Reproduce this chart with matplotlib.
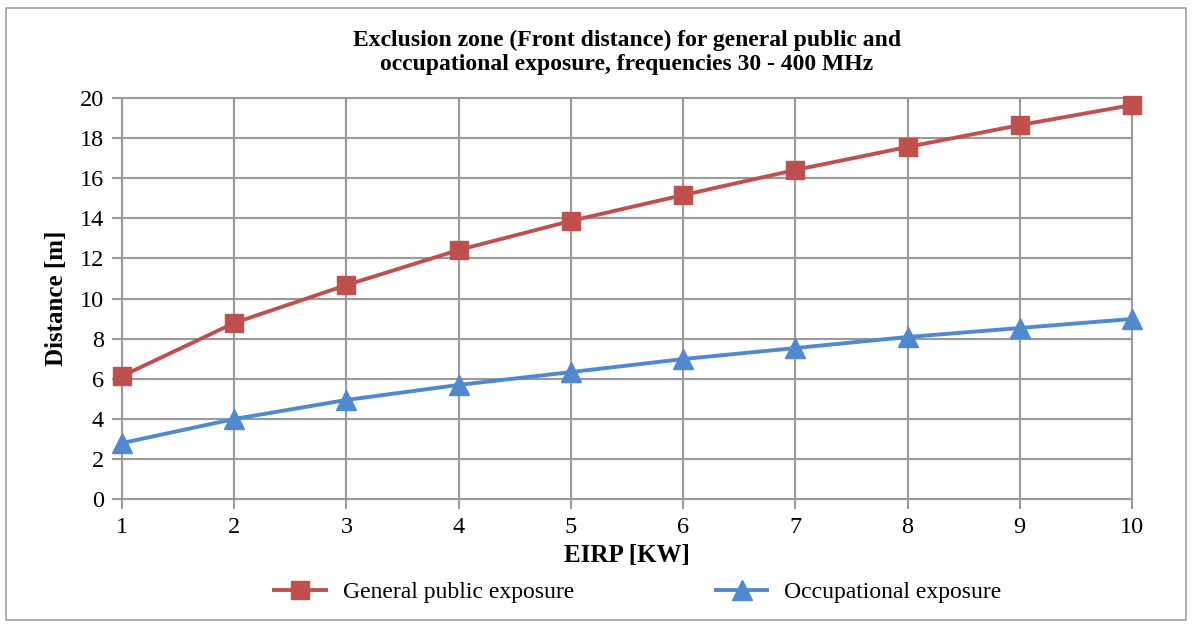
import matplotlib.pyplot as plt
from matplotlib.patches import Rectangle

eirp = [1, 2, 3, 4, 5, 6, 7, 8, 9, 10]
general_public = [6.13, 8.78, 10.67, 12.42, 13.87, 15.16, 16.41, 17.56, 18.65, 19.65]
occupational = [2.79, 3.99, 4.94, 5.69, 6.33, 6.98, 7.53, 8.08, 8.53, 8.98]

plt.rcParams['font.family'] = ['Liberation Serif', 'DejaVu Serif']

fig = plt.figure(figsize=(11.92, 6.28), dpi=100)
ax = fig.add_axes([0.1023, 0.2054, 0.8474, 0.6385])

# marco exterior
fig.patches.append(Rectangle((0.005, 0.012), 0.99, 0.976, transform=fig.transFigure,
                             fill=False, edgecolor='#a0a0a0', linewidth=1.2))

ax.plot(eirp, general_public, marker='s', markersize=13, linewidth=2.8,
        color='#C0504D', label='General public exposure', clip_on=False, zorder=3)
ax.plot(eirp, occupational, marker='^', markersize=14, linewidth=2.8,
        color='#5089D0', label='Occupational exposure', clip_on=False, zorder=3)

ax.set_xlim(1, 10)
ax.set_ylim(0, 20)
ax.set_xticks(eirp)
ax.set_yticks(range(0, 21, 2))
ax.grid(True, color='#9a9a9a', linewidth=1.5)
ax.set_axisbelow(True)
for s in ax.spines.values():
    s.set_color('#9a9a9a')
    s.set_linewidth(1.5)
ax.tick_params(axis='both', labelsize=17.5, length=7, width=1.5, color='#9a9a9a', pad=6)

ax.set_title('Exclusion zone (Front distance) for general public and\noccupational exposure, frequencies 30 - 400 MHz',
             fontsize=17, fontweight='bold', pad=20)
ax.set_xlabel('EIRP [KW]', fontsize=18, fontweight='bold', labelpad=4)
ax.set_ylabel('Distance [m]', fontsize=18, fontweight='bold', labelpad=8)

fig.legend(loc='center', bbox_to_anchor=(0.535, 0.057), ncol=2, frameon=False,
           fontsize=17, columnspacing=6, handlelength=2.2, handletextpad=0.7)

fig.savefig('out.png', dpi=100)
